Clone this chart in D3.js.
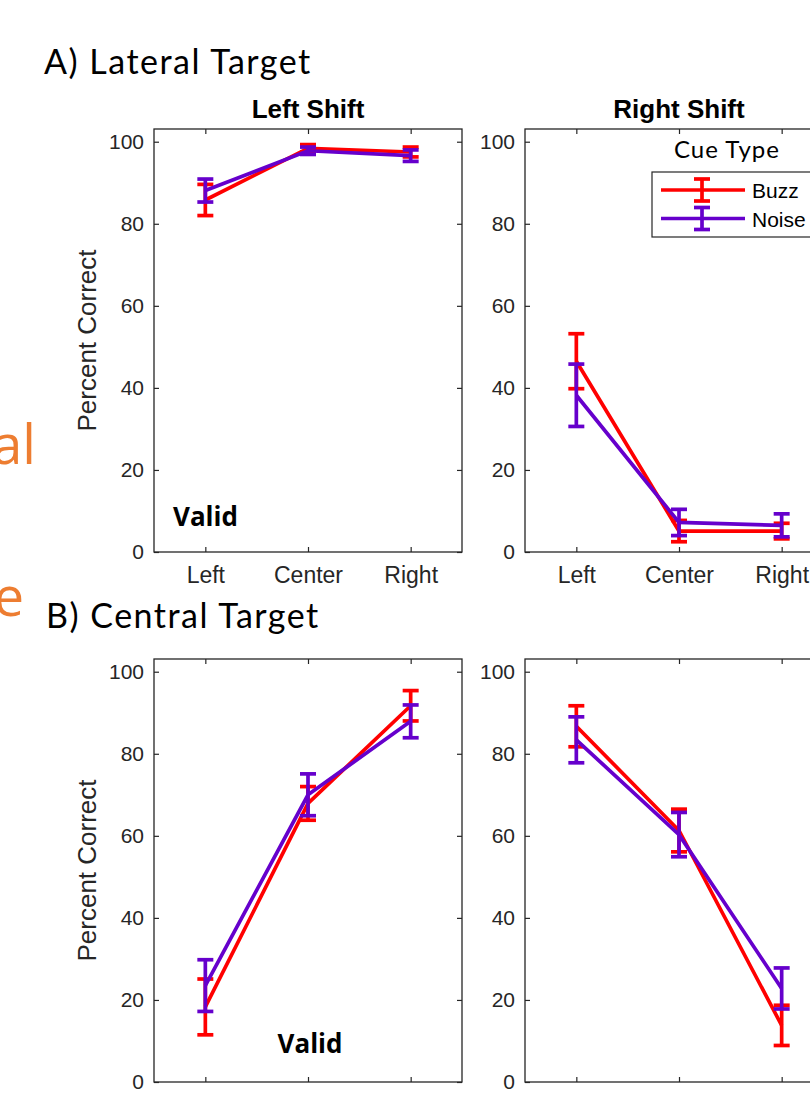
<!DOCTYPE html>
<html>
<head>
<meta charset="utf-8">
<script src="https://cdn.jsdelivr.net/npm/d3@7"></script>
<style>
  body { margin: 0; background: #fff; }
  svg { display: block; }
</style>
</head>
<body>
<script>
// categories and ticks
var categories = ["Left", "Center", "Right"];
var yTicks = [0, 20, 40, 60, 80, 100];
var cueTypes = ["Buzz", "Noise"];

// A) Lateral target, left shift
var latLeftBuzz = [85.8, 98.4, 97.5];
var latLeftBuzzErr = [3.8, 0.9, 1.2];
var latLeftNoise = [88.1, 97.8, 96.6];
var latLeftNoiseErr = [2.8, 0.9, 1.4];

// A) Lateral target, right shift
var latRightBuzz = [46.5, 5.1, 5.1];
var latRightBuzzErr = [6.7, 2.6, 1.9];
var latRightNoise = [38.2, 7.2, 6.5];
var latRightNoiseErr = [7.6, 3.2, 2.8];

// B) Central target, left shift
var cenLeftBuzz = [18.3, 67.9, 91.7];
var cenLeftBuzzErr = [6.8, 4.1, 3.7];
var cenLeftNoise = [23.5, 70.0, 87.9];
var cenLeftNoiseErr = [6.3, 5.1, 4.0];

// B) Central target, right shift
var cenRightBuzz = [86.7, 61.3, 13.8];
var cenRightBuzzErr = [5.0, 5.2, 4.9];
var cenRightNoise = [83.4, 60.3, 22.8];
var cenRightNoiseErr = [5.6, 5.4, 5.0];

var colors = {Buzz: "#ff0000", Noise: "#6600cc"};
var axisColor = "#262626";
var lw = 3.7;

var svg = d3.select("body").append("svg")
  .attr("width", 810)
  .attr("height", 1094);

// orange text peeking from behind the figure
svg.append("text")
  .attr("x", 36).attr("y", 464)
  .attr("text-anchor", "end")
  .attr("font-family", "Open Sans")
  .attr("font-size", 54)
  .attr("fill", "#ed7d31")
  .text("al");
svg.append("text")
  .attr("x", 24).attr("y", 616)
  .attr("text-anchor", "end")
  .attr("font-family", "Open Sans")
  .attr("font-size", 54)
  .attr("fill", "#ed7d31")
  .text("e");

// section headers
svg.append("text")
  .attr("x", 44).attr("y", 74)
  .attr("font-family", "Lato")
  .attr("font-size", 34)
  .attr("letter-spacing", 1.5)
  .attr("fill", "#000")
  .text("A) Lateral Target");
svg.append("text")
  .attr("x", 46).attr("y", 628)
  .attr("font-family", "Lato")
  .attr("font-size", 34)
  .attr("letter-spacing", 1.5)
  .attr("fill", "#000")
  .text("B) Central Target");

var panels = [
  {left: 154, top: 129, title: "Left Shift", ylabel: true, xlabels: true, valid: [173, 526, "start"],
   series: [[latLeftBuzz, latLeftBuzzErr], [latLeftNoise, latLeftNoiseErr]]},
  {left: 525, top: 129, title: "Right Shift", ylabel: false, xlabels: true, legend: true,
   series: [[latRightBuzz, latRightBuzzErr], [latRightNoise, latRightNoiseErr]]},
  {left: 154, top: 659, title: null, ylabel: true, xlabels: false, valid: [310, 1053, "middle"],
   series: [[cenLeftBuzz, cenLeftBuzzErr], [cenLeftNoise, cenLeftNoiseErr]]},
  {left: 525, top: 659, title: null, ylabel: false, xlabels: false,
   series: [[cenRightBuzz, cenRightBuzzErr], [cenRightNoise, cenRightNoiseErr]]}
];

var W = 308, H = 423;

panels.forEach(function(p){
  var x = d3.scalePoint().domain(categories).range([p.left, p.left + W]).padding(0.5);
  var y = d3.scaleLinear().domain([0, 103.1]).range([p.top + H, p.top]);

  var g = svg.append("g");

  // inward ticks on all four sides
  var axL = g.append("g").attr("transform", "translate(" + p.left + ",0)")
    .call(d3.axisLeft(y).tickValues(yTicks).tickSize(-5).tickPadding(10));
  var axR = g.append("g").attr("transform", "translate(" + (p.left + W) + ",0)")
    .call(d3.axisRight(y).tickValues(yTicks).tickSize(-5).tickFormat(""));
  var axT = g.append("g").attr("transform", "translate(0," + p.top + ")")
    .call(d3.axisTop(x).tickSize(-5).tickFormat(""));
  var axB = g.append("g").attr("transform", "translate(0," + (p.top + H) + ")")
    .call(d3.axisBottom(x).tickSize(-5).tickPadding(15)
      .tickFormat(p.xlabels ? null : function(){ return ""; }));

  [axL, axR, axT, axB].forEach(function(a){
    a.select(".domain").remove();
    a.selectAll(".tick line").attr("stroke", axisColor).attr("stroke-width", 1.2);
    a.selectAll(".tick text").attr("fill", axisColor).attr("font-family", "Liberation Sans, Arial");
  });
  axL.selectAll(".tick text").attr("font-size", 21);
  axB.selectAll(".tick text").attr("font-size", 23);

  g.append("rect")
    .attr("x", p.left).attr("y", p.top)
    .attr("width", W).attr("height", H)
    .attr("fill", "none")
    .attr("stroke", axisColor)
    .attr("stroke-width", 1.3);

  if (p.title) {
    g.append("text")
      .attr("x", p.left + W / 2).attr("y", 118)
      .attr("text-anchor", "middle")
      .attr("font-family", "Liberation Sans, Arial")
      .attr("font-weight", "bold")
      .attr("font-size", 26)
      .attr("fill", "#000")
      .text(p.title);
  }

  if (p.ylabel) {
    g.append("text")
      .attr("transform", "translate(96," + (p.top + H / 2) + ") rotate(-90)")
      .attr("text-anchor", "middle")
      .attr("font-family", "Liberation Sans, Arial")
      .attr("font-size", 26)
      .attr("fill", axisColor)
      .text("Percent Correct");
  }

  if (p.valid) {
    g.append("text")
      .attr("x", p.valid[0]).attr("y", p.valid[1])
      .attr("text-anchor", p.valid[2])
      .attr("font-family", "Open Sans")
      .attr("font-weight", "bold")
      .attr("font-size", 26)
      .attr("fill", "#000")
      .text("Valid");
  }

  var line = d3.line()
    .x(function(d, i){ return x(categories[i]); })
    .y(function(d){ return y(d); });

  p.series.forEach(function(s, k){
    var col = colors[cueTypes[k]];
    var means = s[0], errs = s[1];
    var sg = g.append("g");

    sg.append("path")
      .datum(means)
      .attr("d", line)
      .attr("fill", "none")
      .attr("stroke", col)
      .attr("stroke-width", lw);

    var bars = sg.selectAll(".eb").data(means).enter().append("g");
    bars.append("line")
      .attr("x1", function(d, i){ return x(categories[i]); })
      .attr("x2", function(d, i){ return x(categories[i]); })
      .attr("y1", function(d, i){ return y(d - errs[i]); })
      .attr("y2", function(d, i){ return y(d + errs[i]); })
      .attr("stroke", col).attr("stroke-width", lw);
    [-1, 1].forEach(function(sign){
      bars.append("line")
        .attr("x1", function(d, i){ return x(categories[i]) - 8; })
        .attr("x2", function(d, i){ return x(categories[i]) + 8; })
        .attr("y1", function(d, i){ return y(d + sign * errs[i]); })
        .attr("y2", function(d, i){ return y(d + sign * errs[i]); })
        .attr("stroke", col).attr("stroke-width", lw);
    });
  });

  if (p.legend) {
    svg.append("text")
      .attr("x", 727).attr("y", 158)
      .attr("text-anchor", "middle")
      .attr("font-family", "Lato")
      .attr("font-size", 24)
      .attr("letter-spacing", 1)
      .attr("fill", "#000")
      .text("Cue Type");
    svg.append("rect")
      .attr("x", 652).attr("y", 172)
      .attr("width", 200).attr("height", 65)
      .attr("fill", "#fff")
      .attr("stroke", axisColor)
      .attr("stroke-width", 1.2);
    cueTypes.forEach(function(c, i){
      var ly = 190 + i * 28.5;
      var lg = svg.append("g");
      lg.append("line").attr("x1", 661).attr("x2", 745).attr("y1", ly).attr("y2", ly)
        .attr("stroke", colors[c]).attr("stroke-width", lw);
      lg.append("line").attr("x1", 702).attr("x2", 702).attr("y1", ly - 11).attr("y2", ly + 11)
        .attr("stroke", colors[c]).attr("stroke-width", lw);
      [-11, 11].forEach(function(dy){
        lg.append("line").attr("x1", 694).attr("x2", 710).attr("y1", ly + dy).attr("y2", ly + dy)
          .attr("stroke", colors[c]).attr("stroke-width", lw);
      });
      lg.append("text")
        .attr("x", 752).attr("y", ly + 8)
        .attr("font-family", "Liberation Sans, Arial")
        .attr("font-size", 21)
        .attr("fill", "#000")
        .text(c);
    });
  }
});
</script>
</body>
</html>
